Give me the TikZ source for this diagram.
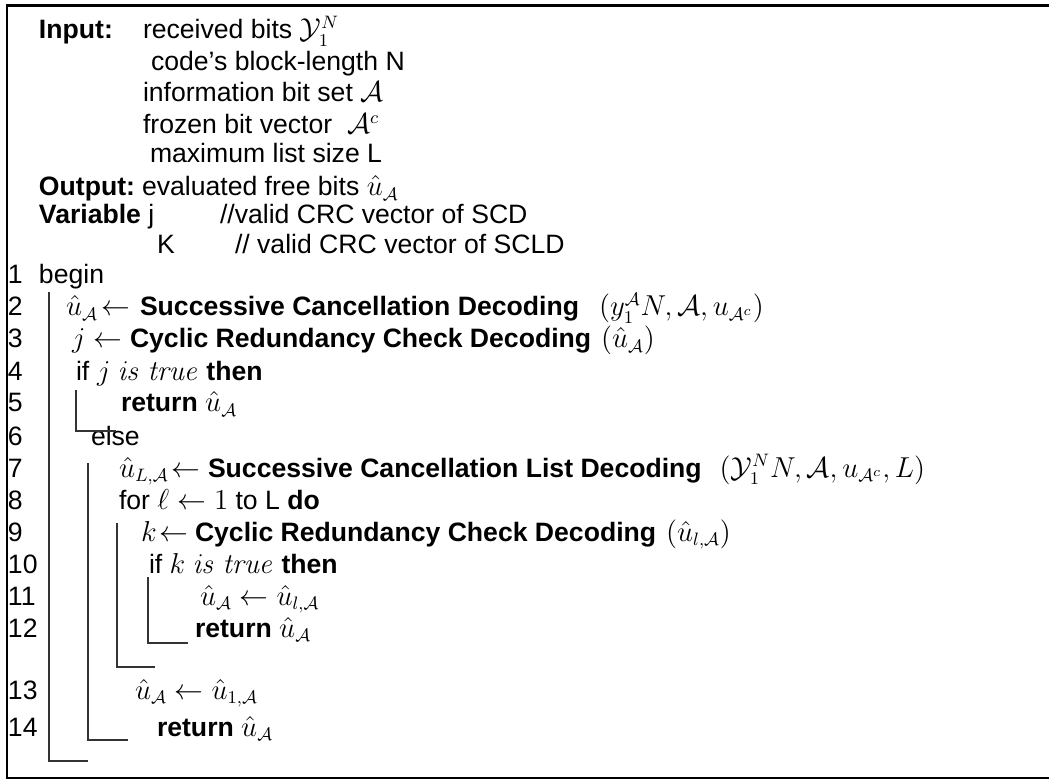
\documentclass[tikz,border=0pt]{standalone}
\usepackage[no-math]{fontspec}
\setmainfont{Liberation Sans}
\usetikzlibrary{calc}
\begin{document}
\begin{tikzpicture}[x=0.5pt,y=-0.5pt,
  t/.style={anchor=base west,inner sep=0pt,outer sep=0pt,font=\fontsize{13.3pt}{16pt}\selectfont},
  brk/.style={draw=black!80,line width=0.8pt},
  topline/.style={draw=black,line width=1.5pt},
  sideline/.style={draw=black,line width=1.2pt}]
\useasboundingbox (0,0) rectangle (1049,780);
% frame
\draw[topline] (6.4,5.5) -- (1049,5.5);
\draw[sideline] (7,5) -- (7,778) -- (1049,778);
% header
\node[t] (inlab) at (39,39) {\textbf{Input:}};
\node[t] (in1) at (143,39) {received bits $\mathcal{Y}_1^N$};
\node[t] (in2) at (151,71) {code’s block-length N};
\node[t] (in3) at (143,102) {information bit set $\mathcal{A}$};
\node[t] (in4) at (143,134) {frozen bit vector\ \ $\mathcal{A}^c$};
\node[t] (in5) at (150,163) {maximum list size L};
\node[t] (outlab) at (39,196) {\textbf{Output:}};
\node[t] (out1) at (142,196) {evaluated free bits $\hat{u}_{\mathcal{A}}$};
\node[t] (varlab) at (39,224) {\textbf{Variable} j};
\node[t] (var1) at (220,224) {//valid CRC vector of SCD};
\node[t] (var2) at (157,254) {K};
\node[t] (var3) at (235,254) {// valid CRC vector of SCLD};
% line numbers
\node[t] (n1) at (8,284) {1};
\node[t] (n2) at (8,316) {2};
\node[t] (n3) at (8,348) {3};
\node[t] (n4) at (8,380) {4};
\node[t] (n5) at (8,412) {5};
\node[t] (n6) at (8,445) {6};
\node[t] (n7) at (8,477) {7};
\node[t] (n8) at (8,509) {8};
\node[t] (n9) at (8,541) {9};
\node[t] (n10) at (8,573) {10};
\node[t] (n11) at (8,605) {11};
\node[t] (n12) at (8,637) {12};
\node[t] (n13) at (8,699) {13};
\node[t] (n14) at (8,736) {14};
% body
\node[t] (l1) at (39,284) {begin};
\node[t] (l2a) at (66,316) {$\hat{u}_{\mathcal{A}}\!\leftarrow$};
\node[t] (l2b) at (140,316) {\textbf{Successive Cancellation Decoding}};
\node[t] (l2c) at ($(l2b.base east)+(20,0)$) {$(y_1^{\mathcal{A}}N, \mathcal{A}, u_{\mathcal{A}^c})$};
\node[t] (l3a) at (72,348) {$j \leftarrow$};
\node[t] (l3b) at (130,348) {\textbf{Cyclic Redundancy Check Decoding}};
\node[t] (l3c) at ($(l3b.base east)+(10,0)$) {$(\hat{u}_{\mathcal{A}})$};
\node[t] (l4a) at (76,380) {if};
\node[t] (l4b) at (97,380) {$j\ \mathit{is\ true}$ \textbf{then}};
\node[t] (l5) at (121,412) {\textbf{return} $\hat{u}_{\mathcal{A}}$};
\node[t] (l6) at (91,445) {else};
\node[t] (l7a) at (119,477) {$\hat{u}_{L,\mathcal{A}}\!\leftarrow$};
\node[t] (l7b) at (208,477) {\textbf{Successive Cancellation List Decoding}};
\node[t] (l7c) at ($(l7b.base east)+(18,0)$) {$(\mathcal{Y}_1^N N, \mathcal{A}, u_{\mathcal{A}^c}, L)$};
\node[t] (l8) at (119,509) {for $\ell \leftarrow 1$ to L \textbf{do}};
\node[t] (l9a) at (141,541) {$k\!\leftarrow$};
\node[t] (l9b) at (195,541) {\textbf{Cyclic Redundancy Check Decoding}};
\node[t] (l9c) at ($(l9b.base east)+(10,0)$) {$(\hat{u}_{l,\mathcal{A}})$};
\node[t] (l10) at (149,573) {if $k\ \mathit{is\ true}$ \textbf{then}};
\node[t] (l11) at (200,605) {$\hat{u}_{\mathcal{A}} \leftarrow \hat{u}_{l,\mathcal{A}}$};
\node[t] (l12) at (195,637) {\textbf{return} $\hat{u}_{\mathcal{A}}$};
\node[t] (l13) at (135,699) {$\hat{u}_{\mathcal{A}} \leftarrow \hat{u}_{1,\mathcal{A}}$};
\node[t] (l14) at (157,736) {\textbf{return} $\hat{u}_{\mathcal{A}}$};
% block brackets
\draw[brk] (49,292) -- (49,761) -- (88,761);
\draw[brk] (76,390) -- (76,431) -- (116,431);
\draw[brk] (88,463) -- (88,740) -- (128,740);
\draw[brk] (117,523) -- (117,667) -- (155,667);
\draw[brk] (148,577) -- (148,643) -- (188,643);
\end{tikzpicture}
\end{document}
